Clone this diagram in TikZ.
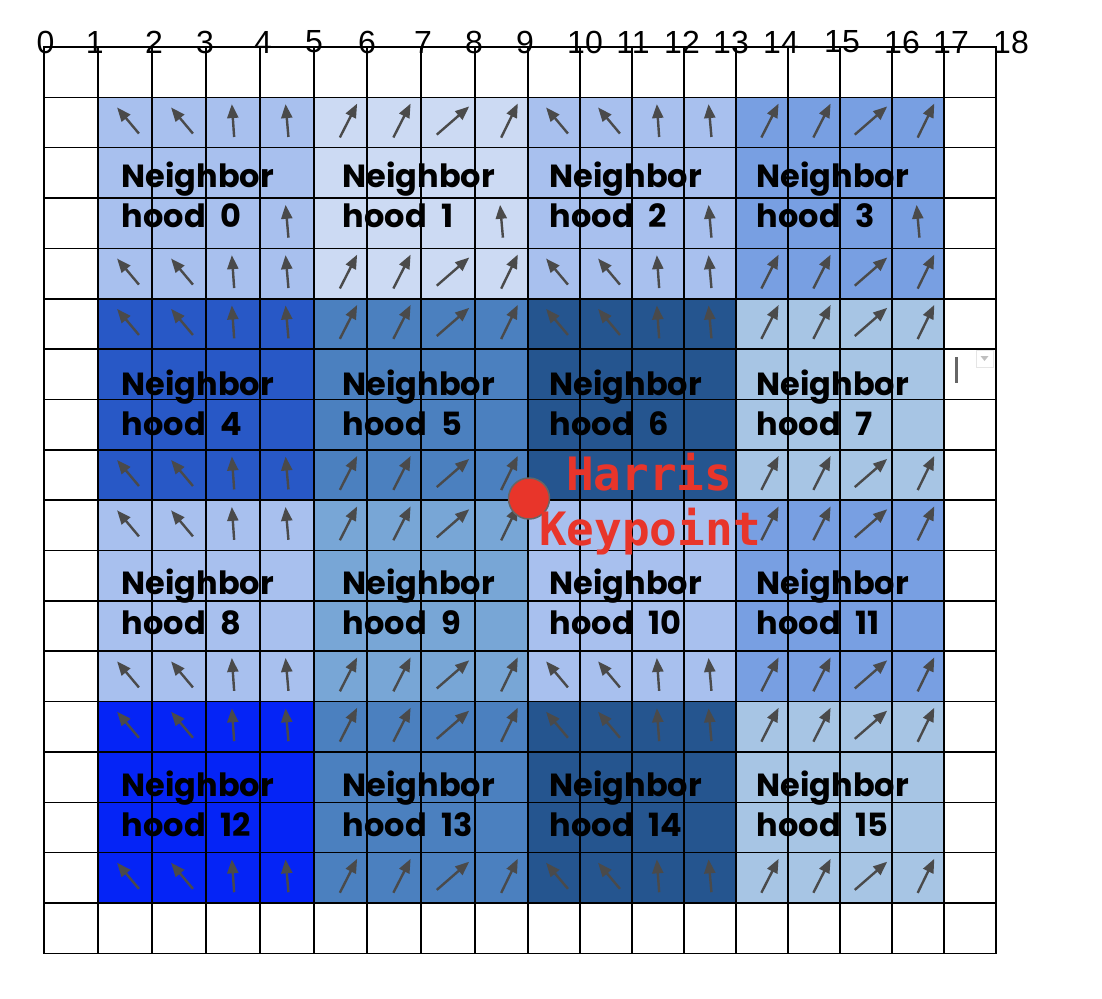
\documentclass[tikz,border=0pt]{standalone}
\usepackage{fontspec}
\usepackage{xcolor}
\usepackage{tikz}
\usetikzlibrary{arrows.meta,positioning}
\setmainfont{Liberation Sans}
\newfontfamily\hoodfont{Poppins}
\newfontfamily\monofont{DejaVu Sans Mono}
\definecolor{periwinkle}{HTML}{A8C0EE}
\definecolor{iceblue}{HTML}{CCDAF3}
\definecolor{cornflower}{HTML}{789FE2}
\definecolor{royal}{HTML}{2858C6}
\definecolor{steel}{HTML}{4B80BF}
\definecolor{navy}{HTML}{25558F}
\definecolor{powder}{HTML}{A7C5E4}
\definecolor{skyblue}{HTML}{78A6D6}
\definecolor{electric}{HTML}{0524F6}
\definecolor{arrowgray}{HTML}{4A4A4A}
\definecolor{keyred}{HTML}{E8352A}
\tikzset{
  gridline/.style={draw=black, line width=1.5pt, line cap=rect},
  hoodcell/.style={fill=#1, draw=none},
  gradarrow/.style={
    -{Triangle[length=14pt, width=11pt]}, line width=2.4pt, color=arrowgray
  },
  hoodlabel/.style={
    font=\hoodfont\bfseries\fontsize{32}{40}\selectfont,
    align=left, anchor=base west, inner sep=0pt
  },
  ticklabel/.style={font=\fontsize{32}{36}\selectfont, inner sep=0pt},
  keydot/.style={
    circle, fill=keyred, draw=black!60, line width=1.5pt,
    minimum size=41pt, inner sep=0pt
  },
  keylabel/.style={
    font=\monofont\bfseries\fontsize{46}{50}\selectfont,
    text=keyred, anchor=base west, inner sep=0pt
  },
}
\begin{document}
\begin{tikzpicture}[x=1pt, y=-1pt]
  \useasboundingbox (0,0) rectangle (1102,998);

  % neighbourhood fills, one 4x4 block each
  \foreach \hue [count=\n from 0] in {periwinkle,iceblue,periwinkle,cornflower,
      royal,steel,navy,powder,periwinkle,skyblue,periwinkle,cornflower,
      electric,steel,navy,powder} {
    \pgfmathtruncatemacro\nc{mod(\n,4)}
    \pgfmathtruncatemacro\nr{div(\n,4)}
    \pgfmathsetmacro\xa{{98,314,528,736,944}[\nc]}
    \pgfmathsetmacro\xb{{98,314,528,736,944}[\nc+1]}
    \pgfmathsetmacro\ya{47+50.35*(4*\nr+1)}
    \pgfmathsetmacro\yb{\ya+4*50.35}
    \fill[hoodcell=\hue] (\xa,\ya) rectangle (\xb,\yb);
  }

  % grid
  \foreach \gx in {44,98,152,206,260,314,367,421,475,528,580,632,684,736,788,840,892,944,996}
    \draw[gridline] (\gx,47) -- (\gx,953.3);
  \foreach \k in {0,...,18}
    \draw[gridline] (44,{47+50.35*\k}) -- (996,{47+50.35*\k});

  % gradient arrows (none behind the keypoint words)
  \foreach \cx [count=\c from 0] in {125,179,233,287,340.5,394,448,501.5,
      554,606,658,710,762,814,866,918} {
    \foreach \r in {0,...,15} {
      \pgfmathtruncatemacro\cj{mod(\c,4)}
      \pgfmathtruncatemacro\ci{mod(\r,4)}
      \pgfmathtruncatemacro\vis{((\ci==0)||(\ci==3)||((\ci==2)&&(\cj==3)&&(\r<4)))
        && !(((\r==7)||(\r==8))&&(\c>7)&&(\c<12))}
      \ifnum\vis=1
        \pgfmathtruncatemacro\k{4*mod(div(\c,4),2)+\cj}
        \pgfmathsetmacro\ang{{130,130,94,95,63,63,41,64}[\k]}
        \pgfmathsetmacro\len{{34,34,33,33,38,38,43,38}[\k]}
        \pgfmathsetmacro\dx{{3,3,0,0,8,8,5,8}[\k]}
        \ifnum\ci=2 \def\ang{95}\def\len{33}\def\dx{0}\fi
        \pgfmathsetmacro\cy{47+50.35*(\r+1.5)-2}
        \draw[gradarrow] (\cx+\dx,\cy) ++({-0.5*\len*cos(\ang)},{0.5*\len*sin(\ang)})
          -- ++({\len*cos(\ang)},{-\len*sin(\ang)});
      \fi
    }
  }

  % neighbourhood labels (base = second line)
  \foreach \ly [count=\nr from 0] in {227,435,634,836}
    \foreach \lx [count=\nc from 0] in {121.5,342.5,549.5,756.5} {
      \pgfmathtruncatemacro\n{4*\nr+\nc}
      \node[hoodlabel] (hood\n) at (\lx,\ly) {Neighbor\\hood\hspace{8pt} \n};
    }

  % column numbers
  \foreach \lx [count=\n from 0] in {45.6,94.7,154,205,263,314,367,423,474,525,
      585,633,682,731,781,842,902,951,1011}
    \node[ticklabel] (tick\n) at (\lx,42) {\n};

  % keypoint
  \node[keydot] (keypoint) at (529,498.5) {};
  \node[keylabel] at ([xshift=37pt, yshift=8pt]keypoint.center) (harris) {Harris};
  \node[keylabel] at ([xshift=10pt, yshift=-46.5pt]keypoint.center) (keyword) {Keypoint};

  % cursor marks at the right edge
  \draw[line width=3pt, color=black!60] (956,357) -- (956,383);
  \draw[black!10, line width=0.8pt] (976,350) rectangle (993,367);
  \fill[black!25] (980.5,356) -- (988.5,356) -- (984.5,361) -- cycle;
\end{tikzpicture}
\end{document}
